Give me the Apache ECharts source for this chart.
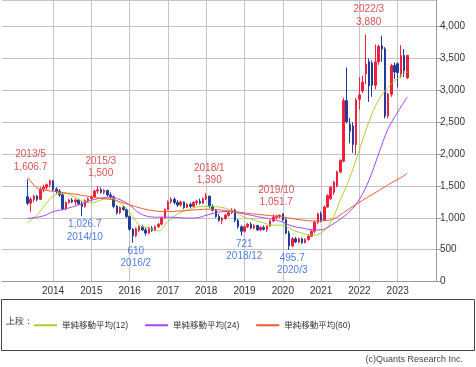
<!DOCTYPE html>
<html><head><meta charset="utf-8">
<script src="https://cdn.jsdelivr.net/npm/echarts@6/dist/echarts.min.js"></script>
<style>html,body{margin:0;padding:0;background:#fff}#c{width:476px;height:367px}</style>
</head><body><div id="c"></div>
<script>
// ---- data ----
const axisStart = [2012, 9], axisEnd = [2024, 1];
const yearLabels = ['2014','2015','2016','2017','2018','2019','2020','2021','2022','2023'];
const candleStart = [2013, 5];
const openV = [1330,1230,1290,1340,1290,1450,1480,1520,
 1580,1450,1420,1360,1140,1240,1280,1250,1280,1220,1180,1270,
 1300,1330,1420,1440,1400,1430,1360,1330,1180,1080,1160,1130,
 1020,820,720,800,860,810,760,840,800,860,900,1000,
 1130,1250,1290,1240,1200,1250,1160,1210,1180,1240,1260,1230,
 1300,1340,1180,1120,1020,960,990,1040,1080,1120,960,860,
 790,860,900,840,880,810,850,820,870,950,1010,1030,
 1060,970,760,560,670,620,670,610,660,710,790,930,
 1060,960,1170,1300,1400,1500,1720,1890,2840,2470,2440,2150,
 2860,2990,3260,3450,3430,3080,3450,3700,3650,2600,2940,3390,
 3420,3260,3550,3200];
const highV = [1606.7,1320,1360,1360,1480,1520,1540,1600,
 1595,1480,1450,1390,1260,1300,1310,1300,1300,1260,1290,1320,
 1350,1440,1500,1480,1450,1440,1400,1350,1200,1180,1200,1150,
 1040,840,850,880,890,840,860,870,880,920,1020,1150,
 1270,1320,1320,1280,1270,1260,1230,1240,1260,1280,1300,1320,
 1390,1350,1210,1140,1060,1010,1060,1100,1150,1140,980,880,
 880,920,930,900,890,870,880,880,970,1051.7,1045,1050,
 1070,990,800,700,700,690,690,680,730,810,950,1080,
 1100,1190,1370,1500,1580,1740,1920,2880,3360,2570,2500,2880,
 3210,3230,3880,3500,3470,3720,3720,3860,3680,2960,3420,3440,
 3440,3710,3650,3560];
const lowV = [1200,1096,1250,1260,1280,1400,1440,1480,
 1420,1380,1330,1120,1120,1220,1230,1200,1200,1026.7,1160,1240,
 1260,1320,1380,1380,1370,1340,1300,1150,1050,1060,1110,1000,
 800,610,700,780,790,720,740,780,790,840,880,990,
 1120,1220,1210,1170,1180,1140,1150,1150,1170,1200,1210,1220,
 1280,1150,1100,1000,940,900,970,1020,1060,930,830,721,
 770,840,820,820,790,790,800,780,860,930,980,990,
 950,740,495.7,540,600,600,590,600,640,700,760,900,
 930,950,1160,1280,1360,1480,1700,1870,2480,2170,2020,1990,
 2700,2960,3100,2820,2900,3020,3400,3450,2560,2560,2900,3180,
 3050,3200,3210,3180];
const closeV = [1230,1290,1340,1290,1450,1480,1520,1580,
 1450,1420,1360,1140,1240,1280,1250,1280,1220,1180,1270,1300,
 1330,1420,1440,1400,1430,1360,1330,1180,1080,1160,1130,1020,
 820,720,830,860,810,760,840,800,860,900,1000,1130,
 1250,1290,1240,1200,1250,1160,1210,1180,1240,1260,1230,1300,
 1340,1180,1120,1020,960,990,1040,1080,1120,960,860,790,
 860,900,840,880,810,850,820,870,950,1010,1030,1040,
 970,760,560,670,620,670,610,660,710,790,930,1060,
 960,1170,1350,1480,1560,1720,1900,2840,2510,2360,2150,2850,
 2930,3130,3415,3070,3080,3450,3690,3650,2600,2940,3390,3290,
 3280,3550,3310,3550];

const ma12Months = ['2013/5','2013/8','2013/10','2014/1','2014/4','2014/7','2014/10','2015/1','2015/4','2015/7','2015/10','2016/1','2016/4','2016/7','2016/10','2017/1','2017/4','2017/7','2017/10','2018/1','2018/4','2018/7','2018/10','2019/1','2019/4','2019/7','2019/10','2020/1','2020/4','2020/7','2020/10','2021/1','2021/4','2021/7','2021/10','2022/1','2022/4','2022/7','2022/10','2023/1','2023/4'];
const ma12Values = [915,1050,1170,1340,1390,1345,1265,1235,1280,1310,1235,1090,890,840,795,945,1060,1120,1170,1180,1175,1150,1090,1010,965,920,885,885,810,760,730,760,930,1280,1630,2070,2510,2850,3050,3190,3290];

const ma24Months = ['2013/5','2013/10','2014/1','2014/4','2014/7','2014/10','2015/1','2015/4','2015/7','2015/10','2016/1','2016/4','2016/7','2016/10','2017/1','2017/4','2017/7','2017/10','2018/1','2018/4','2018/7','2018/10','2019/1','2019/4','2019/7','2019/10','2020/1','2020/4','2020/7','2020/10','2021/1','2021/4','2021/7','2021/10','2022/1','2022/4','2022/7','2022/10','2023/1','2023/4'];
const ma24Values = [990,1030,1095,1130,1170,1220,1275,1310,1325,1285,1200,1075,1020,1010,1010,1005,995,1000,1040,1080,1100,1090,1060,1030,1000,975,930,870,840,815,810,880,980,1100,1290,1590,2000,2400,2660,2900];

const ma60Months = ['2013/5','2013/8','2013/11','2014/2','2014/5','2014/8','2014/11','2015/2','2015/5','2015/8','2015/11','2016/2','2016/5','2016/8','2016/11','2017/2','2017/5','2017/8','2017/11','2018/2','2018/5','2018/8','2018/11','2019/2','2019/5','2019/8','2019/11','2020/2','2020/5','2020/8','2020/11','2021/2','2021/5','2021/8','2021/11','2022/2','2022/5','2022/8','2022/11','2023/2','2023/4'];
const ma60Values = [1640,1470,1430,1410,1390,1370,1345,1320,1300,1280,1235,1190,1145,1115,1100,1100,1110,1120,1130,1135,1125,1110,1090,1070,1055,1040,1025,1005,980,960,950,955,985,1080,1180,1275,1365,1455,1550,1630,1700];

const notesUp = [
  {m:'2013/5', v:1606.7, text:'2013/5\n1,606.7'},
  {m:'2015/3', v:1500, text:'2015/3\n1,500'},
  {m:'2018/1', v:1390, text:'2018/1\n1,390'},
  {m:'2019/10', v:1051.7, text:'2019/10\n1,051.7'},
  {m:'2022/3', v:3880, text:'2022/3\n3,880'}
];
const notesDown = [
  {m:'2014/10', v:1026.7, text:'1,026.7\n2014/10'},
  {m:'2016/2', v:610, text:'610\n2016/2'},
  {m:'2018/12', v:721, text:'721\n2018/12'},
  {m:'2020/3', v:495.7, text:'495.7\n2020/3'}
];
const seriesNames = ['単純移動平均(12)','単純移動平均(24)','単純移動平均(60)'];

// ---- build ----
function monthSeq(start, endY, endM){
  const out=[]; let y=start[0], m=start[1];
  while (y<endY || (y===endY && m<=endM)) { out.push(y+'/'+m); m++; if(m>12){m=1;y++;} }
  return out;
}
const axisMonths = monthSeq(axisStart, axisEnd[0], axisEnd[1]);
const candleMonths = monthSeq(candleStart, 2100, 1).slice(0, openV.length);
const candleMap = {};
candleMonths.forEach((m,i)=>{ candleMap[m] = [openV[i], closeV[i], lowV[i], highV[i]]; });
const candleData = axisMonths.map(m => candleMap[m] || '-');

const isYearTick = (i, v) => { const p=String(v).split('/'); return p[1]==='1' && yearLabels.indexOf(p[0])>=0; };

const RED='#f0203c', BLUE='#1f3d9c';
const FONT="'Liberation Sans', Arial, 'Noto Sans CJK JP', sans-serif";
const markData = notesUp.map(n=>({coord:[n.m,n.v], label:{formatter:n.text, position:'top', distance:6, offset:[3,0], color:'#d9534f'}}))
 .concat(notesDown.map(n=>({coord:[n.m,n.v], label:{formatter:n.text, position:'bottom', distance:2, offset:[3,0], color:'#4f7fe6'}})));

const chart = echarts.init(document.getElementById('c'), null, {renderer:'canvas'});
chart.setOption({
  animation:false,
  textStyle:{fontFamily:FONT},
  grid:{left:2, right:40, top:0, bottom:85.5, containLabel:false},
  xAxis:{type:'category', data:axisMonths, boundaryGap:false,
    axisLine:{show:true, lineStyle:{color:'#9a9a9a'}},
    axisTick:{show:false},
    axisLabel:{interval:isYearTick, formatter:v=>v.split('/')[0], fontSize:10, color:'#333', margin:5, fontFamily:FONT},
    splitLine:{show:true, interval:isYearTick, lineStyle:{color:'#c4c4c4', width:1}}
  },
  yAxis:{type:'value', position:'right', min:0, max:4420, interval:500,
    axisLine:{show:true, lineStyle:{color:'#9a9a9a'}},
    axisTick:{show:true, length:5, lineStyle:{color:'#9a9a9a'}},
    axisLabel:{fontSize:10, color:'#333', margin:4, showMaxLabel:false, fontFamily:FONT,
      formatter:v=> (v%500===0 ? v.toLocaleString('en-US') : '')},
    splitLine:{show:true, lineStyle:{color:'#c4c4c4', width:1}}
  },
  legend:{show:true, left:29, top:316, itemWidth:23, itemHeight:2, itemGap:17, icon:'rect',
    data:seriesNames, textStyle:{fontSize:8.5, color:'#333', fontFamily:FONT}, selectedMode:false},
  graphic:[
    {type:'rect', shape:{x:1.5, y:299.5, width:473, height:51}, style:{fill:'none', stroke:'#444', lineWidth:1}},
    {type:'text', left:6, top:317, style:{text:'上段：', fontSize:9, fill:'#333', font:"9px 'Noto Sans CJK JP', sans-serif"}},
    {type:'text', right:13, top:355, style:{text:'(c)Quants Research Inc.', fontSize:9, fill:'#444', font:"9px 'Liberation Sans', Arial, sans-serif"}}
  ],
  series:[
    {type:'candlestick', data:candleData, barWidth:2,
      itemStyle:{color:RED, color0:BLUE, borderColor:RED, borderColor0:BLUE, borderWidth:1},
      markPoint:{symbol:'circle', symbolSize:0, silent:true,
        label:{show:true, fontSize:10, lineHeight:12.5, fontFamily:FONT},
        data:markData}
    },
    {name:seriesNames[0], type:'line', data:ma12Months.map((m,i)=>[m,ma12Values[i]]), smooth:0.4, showSymbol:false,
      lineStyle:{color:'#a8d22a', width:1}, itemStyle:{color:'#a8d22a'}, z:3},
    {name:seriesNames[1], type:'line', data:ma24Months.map((m,i)=>[m,ma24Values[i]]), smooth:0.4, showSymbol:false,
      lineStyle:{color:'#a845ee', width:1}, itemStyle:{color:'#a845ee'}, z:3},
    {name:seriesNames[2], type:'line', data:ma60Months.map((m,i)=>[m,ma60Values[i]]), smooth:0.4, showSymbol:false,
      lineStyle:{color:'#f5582a', width:1}, itemStyle:{color:'#f5582a'}, z:3}
  ]
});
</script>
</body></html>
